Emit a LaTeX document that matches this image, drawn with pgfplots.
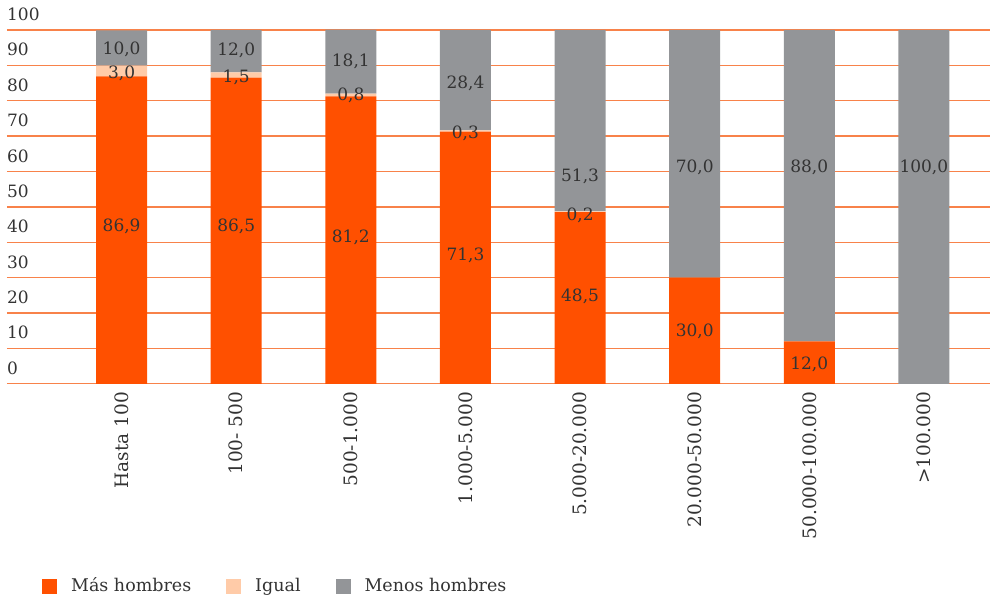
\documentclass[border=0pt]{standalone}
\usepackage{pgfplots}
\pgfplotsset{compat=1.18}
\usepackage{fontspec}
\setmainfont{DejaVu Serif}
\definecolor{mas}{HTML}{FF5000}
\definecolor{igual}{HTML}{FFCBA8}
\definecolor{menos}{HTML}{939598}
\definecolor{txt}{HTML}{333333}
\definecolor{grd}{HTML}{F8824A}
\newcommand{\chartfont}{\fontsize{17}{20}\selectfont}
\newcommand{\xfont}{\fontsize{18.5}{22}\selectfont}
\newcommand{\legfont}{\fontsize{17.5}{21}\selectfont}

% value labels: x, label height, text
\pgfplotstableread{
x  y     lab
0  44.4  86,9
1  44.4  86,5
2  41.5  81,2
3  36.4  71,3
4  24.6  48,5
5  14.7  30,0
6  5.6   12,0
0  87.8  3,0
1  86.6  1,5
2  81.4  0,8
3  70.9  0,3
4  47.5  0,2
0  94.4  10,0
1  94.1  12,0
2  91.0  18,1
3  84.9  28,4
4  58.5  51,3
5  61.3  70,0
6  61.3  88,0
7  61.3  100,0
}\labels

\begin{document}
\chartfont
\color{txt}
\begin{tikzpicture}
\begin{axis}[
  scale only axis, width=984pt, height=354pt,
  xmin=-1, xmax=7.58, ymin=0, ymax=100,
  ybar stacked, bar width=51pt,
  axis line style={draw=none},
  major tick length=0pt,
  ymajorgrids, ytick={0,10,...,100},
  grid style={grd, line width=1.3pt},
  xtick={0,...,7},
  xticklabels={Hasta 100,100- 500,500-1.000,1.000-5.000,5.000-20.000,20.000-50.000,50.000-100.000,>100.000},
  tick label style={font=\chartfont, text=txt},
  xticklabel style={font=\xfont, yshift=-8pt, rotate=90, anchor=east, inner sep=0pt},
  yticklabel style={anchor=south west, inner sep=0pt, yshift=9pt},
  /pgf/number format/assume math mode=true,
  legend columns=3,
  legend style={draw=none, fill=none, at={(0,0)}, anchor=north west,
    xshift=32pt, yshift=-190pt, text=txt, font=\legfont,
    /tikz/every odd column/.append style={column sep=12pt},
    /tikz/every even column/.append style={column sep=33pt}},
]
\addplot[fill=mas, draw=none, legend image code/.code={\fill[mas] (0pt,-7.5pt) rectangle (15pt,7.5pt);}]
  coordinates {(0,86.9) (1,86.5) (2,81.2) (3,71.3) (4,48.5) (5,30.0) (6,12.0) (7,0)};
\addplot[fill=igual, draw=none, legend image code/.code={\fill[igual] (0pt,-7.5pt) rectangle (15pt,7.5pt);}]
  coordinates {(0,3.0) (1,1.5) (2,0.8) (3,0.3) (4,0.2) (5,0) (6,0) (7,0)};
\addplot[fill=menos, draw=none, legend image code/.code={\fill[menos] (0pt,-7.5pt) rectangle (15pt,7.5pt);}]
  coordinates {(0,10.0) (1,12.0) (2,18.1) (3,28.4) (4,51.3) (5,70.0) (6,88.0) (7,100.0)};
\legend{Más hombres, Igual, Menos hombres}
\end{axis}
\begin{axis}[
  scale only axis, width=984pt, height=354pt,
  xmin=-1, xmax=7.58, ymin=0, ymax=100,
  hide axis, clip=false,
]
\addplot[only marks, mark=none, nodes near coords, point meta=explicit symbolic,
  every node near coord/.append style={anchor=center, text=txt, font=\chartfont}]
  table[x=x, y=y, meta=lab] {\labels};
\end{axis}
\path (current axis.south west) ++(-7pt,-212pt) rectangle ([yshift=30pt]current axis.north east);
\end{tikzpicture}
\end{document}
